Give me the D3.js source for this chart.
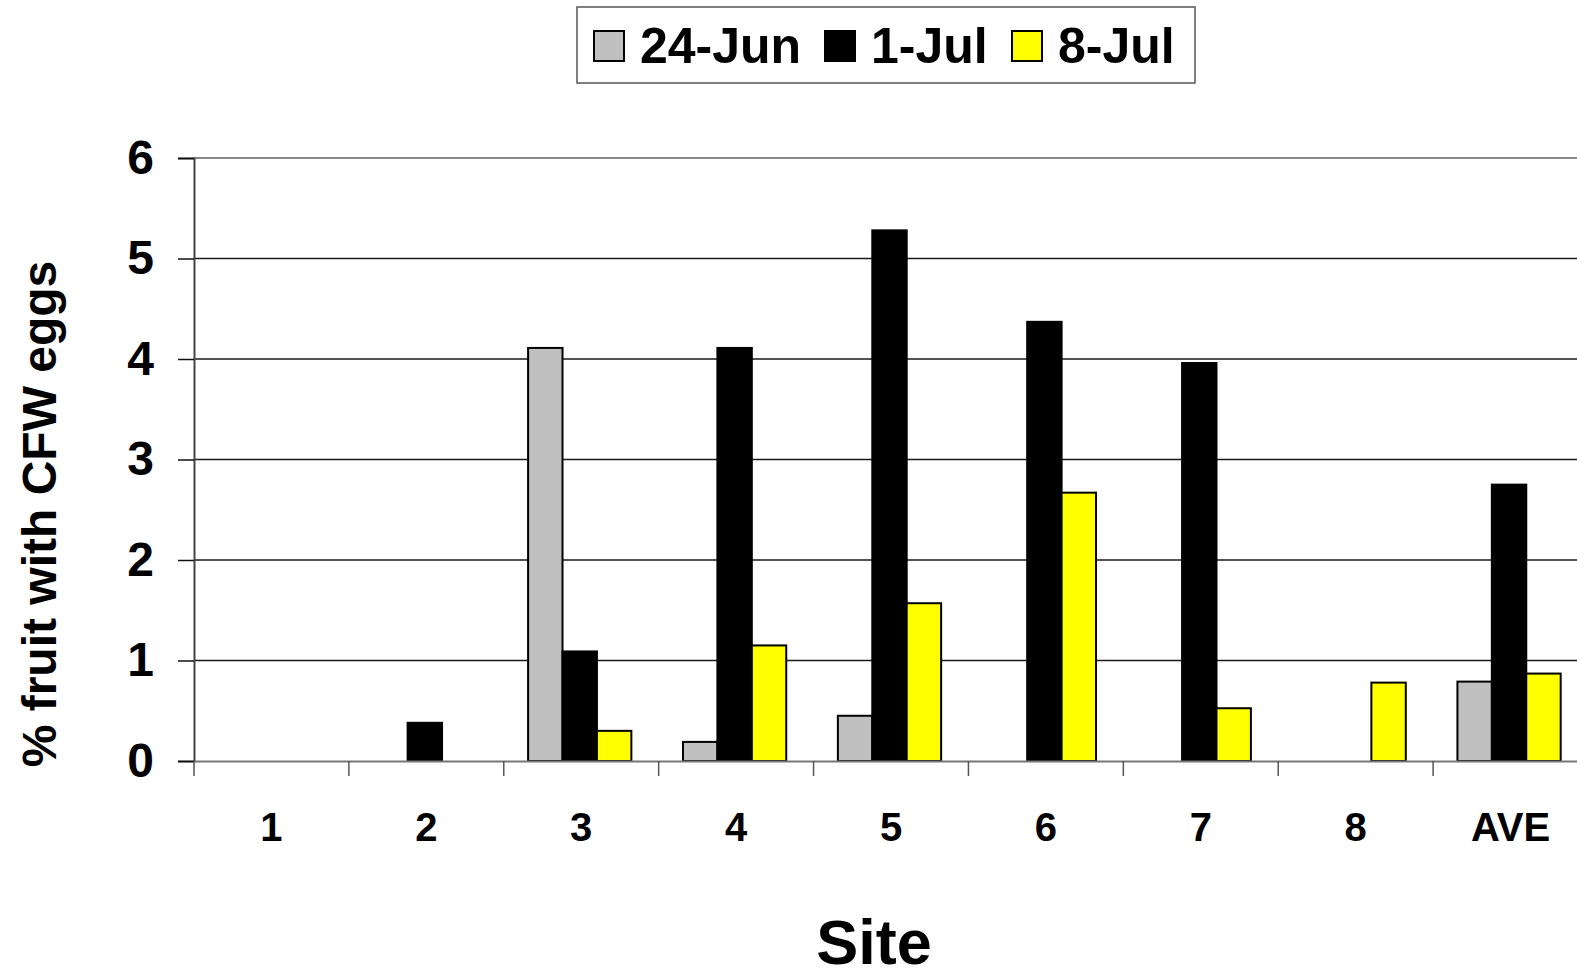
<!DOCTYPE html>
<html>
<head>
<meta charset="utf-8">
<script src="https://cdn.jsdelivr.net/npm/d3@7/dist/d3.min.js"></script>
<style>
  html, body { margin: 0; padding: 0; background: #fff; overflow: hidden; }
  svg { display: block; font-family: "Liberation Sans", Arial, sans-serif; font-weight: bold; }
</style>
</head>
<body>
<svg id="chart" width="1577" height="974"></svg>
<script>
// Sites along the x axis
const sites = ["1", "2", "3", "4", "5", "6", "7", "8", "AVE"];
// Sampling dates (series)
const dates = ["24-Jun", "1-Jul", "8-Jul"];
// % fruit with CFW eggs, per site, for each date
const jun24 = [0, 0, 4.11, 0.19, 0.45, 0, 0, 0, 0.79];
const jul1  = [0, 0.38, 1.09, 4.11, 5.28, 4.37, 3.96, 0, 2.75];
const jul8  = [0, 0, 0.30, 1.15, 1.57, 2.67, 0.525, 0.78, 0.87];
const yTicks = [0, 1, 2, 3, 4, 5, 6];
const colors = ["#c0c0c0", "#000000", "#ffff00"];

const seriesValues = [jun24, jul1, jul8];
const rows = sites.map((s, i) => ({
  site: s,
  values: dates.map((d, j) => ({ date: d, value: seriesValues[j][i] }))
}));

const svg = d3.select("#chart");
// plot area runs a little past the right edge of the page
const plotLeft = 194, plotRight = 1588, plotTop = 158, plotBottom = 761;

const x0 = d3.scaleBand().domain(sites).range([plotLeft, plotRight]).paddingInner(0).paddingOuter(0);
const bw = x0.bandwidth() / 4.5;                // bar width, 150% gap
const groupOffset = (x0.bandwidth() - 3 * bw) / 2 - 1.5;
const x1 = d3.scaleBand().domain(dates).range([0, 3 * bw]);
const y = d3.scaleLinear().domain([0, 6]).range([plotBottom, plotTop]);
const color = d3.scaleOrdinal().domain(dates).range(colors);

// horizontal gridlines
svg.append("g")
  .selectAll("line")
  .data(yTicks.filter(t => t > 0 && t < 6))
  .join("line")
  .attr("x1", plotLeft).attr("x2", plotRight)
  .attr("y1", d => y(d)).attr("y2", d => y(d))
  .attr("stroke", "#1a1a1a").attr("stroke-width", 1.4);

// top border of plot area
svg.append("line")
  .attr("x1", plotLeft).attr("x2", plotRight)
  .attr("y1", y(6)).attr("y2", y(6))
  .attr("stroke", "#888").attr("stroke-width", 2);

// y axis
const yAxis = d3.axisLeft(y).tickValues(yTicks).tickSize(16).tickPadding(24).tickFormat(d3.format("d"));
const gy = svg.append("g").attr("transform", `translate(${plotLeft},0)`).call(yAxis);
gy.select(".domain").attr("stroke", "#444").attr("stroke-width", 2);
gy.selectAll(".tick line").attr("stroke", "#111").attr("stroke-width", 1.5);
gy.selectAll(".tick text")
  .attr("font-size", 48).attr("font-weight", "bold").attr("fill", "#000")
  .attr("font-family", "'Liberation Sans', Arial, sans-serif");

// bars
const groups = svg.append("g")
  .selectAll("g")
  .data(rows)
  .join("g")
  .attr("transform", d => `translate(${x0(d.site) + groupOffset},0)`);

groups.selectAll("rect")
  .data(d => d.values.filter(v => v.value > 0))
  .join("rect")
  .attr("x", d => x1(d.date))
  .attr("width", x1.bandwidth())
  .attr("y", d => y(d.value))
  .attr("height", d => y(0) - y(d.value))
  .attr("fill", d => color(d.date))
  .attr("stroke", "#000")
  .attr("stroke-width", 2);

// x axis
const xAxis = d3.axisBottom(x0).tickSize(0).tickPadding(0);
const gx = svg.append("g").attr("transform", `translate(0,${plotBottom})`).call(xAxis);
gx.select(".domain").attr("stroke", "#777").attr("stroke-width", 2);
gx.selectAll(".tick text")
  .attr("font-size", 40).attr("font-weight", "bold").attr("fill", "#000")
  .attr("font-family", "'Liberation Sans', Arial, sans-serif")
  .attr("dy", null).attr("y", 80);

// category boundary ticks on the x axis
svg.append("g")
  .selectAll("line")
  .data(sites)
  .join("line")
  .attr("x1", d => x0(d)).attr("x2", d => x0(d))
  .attr("y1", plotBottom).attr("y2", plotBottom + 15)
  .attr("stroke", "#555").attr("stroke-width", 1.5);

// axis titles
svg.append("text")
  .attr("x", 874).attr("y", 964)
  .attr("text-anchor", "middle")
  .attr("font-size", 63)
  .text("Site");

svg.append("text")
  .attr("transform", "translate(56,514) rotate(-90)")
  .attr("text-anchor", "middle")
  .attr("font-size", 48)
  .text("% fruit with CFW eggs");

// legend
const legend = svg.append("g");
legend.append("rect")
  .attr("x", 577).attr("y", 7).attr("width", 618).attr("height", 76)
  .attr("fill", "#fff").attr("stroke", "#555").attr("stroke-width", 1.5);

const legendX = [594, 825, 1012];
const items = legend.selectAll("g.item")
  .data(dates)
  .join("g")
  .attr("class", "item")
  .attr("transform", (d, i) => `translate(${legendX[i]},0)`);
items.append("rect")
  .attr("x", 0).attr("y", 31).attr("width", 30).attr("height", 30)
  .attr("fill", d => color(d)).attr("stroke", "#000").attr("stroke-width", 2);
items.append("text")
  .attr("x", 46).attr("y", 63)
  .attr("font-size", 50)
  .text(d => d);
</script>
</body>
</html>
